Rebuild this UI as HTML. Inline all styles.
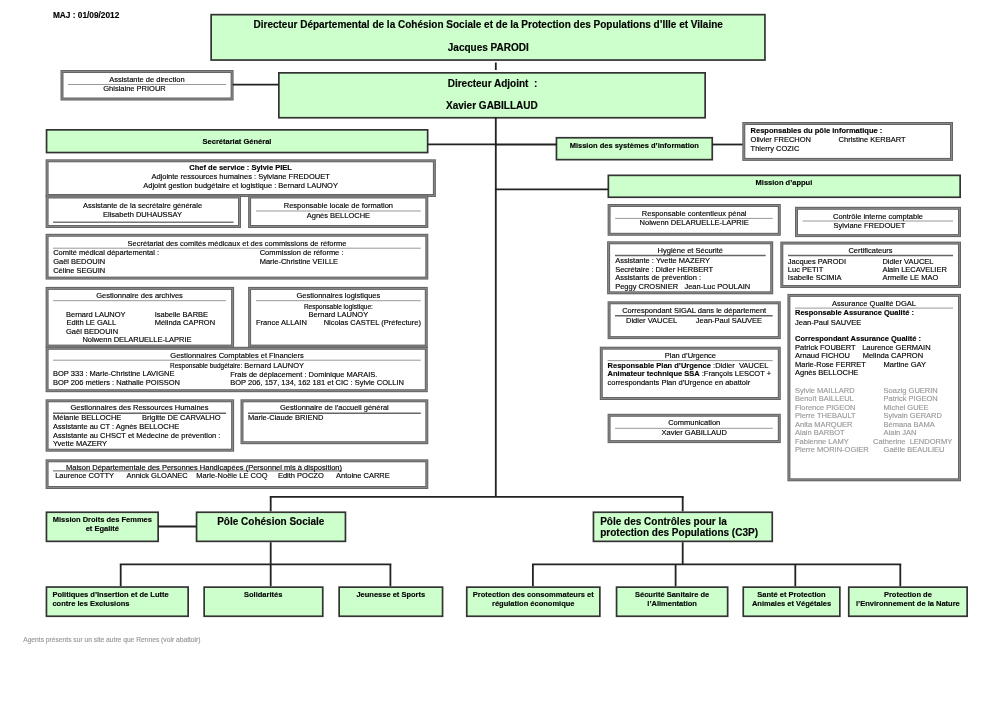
<!DOCTYPE html>
<html><head><meta charset="utf-8"><style>
html,body{margin:0;padding:0;background:#fff;width:992px;height:701px;overflow:hidden}
svg{position:absolute;left:0;top:0}
.t{position:absolute;white-space:pre;font-family:"Liberation Sans",sans-serif;-webkit-text-stroke:0.15px currentColor}
#tx{position:absolute;left:0;top:0;width:992px;height:701px;will-change:transform}
</style></head><body>
<svg width="992" height="701" viewBox="0 0 992 701">
<rect x="211.15" y="14.65" width="553.80" height="45.40" fill="#ccffcc" stroke="#333" stroke-width="1.7"/>
<line x1="495.8" y1="62.5" x2="495.8" y2="70" stroke="#222" stroke-width="1.8"/>
<rect x="278.85" y="72.85" width="426.30" height="44.90" fill="#ccffcc" stroke="#333" stroke-width="1.7"/>
<rect x="62.00" y="71.50" width="170.10" height="27.50" fill="#fff" stroke="#646464" stroke-width="3"/>
<rect x="62.00" y="71.50" width="170.10" height="27.50" fill="none" stroke="#8e8e8e" stroke-width="0.9"/>
<line x1="233.6" y1="84.6" x2="278" y2="84.6" stroke="#222" stroke-width="1.8" stroke-linecap="square"/>
<line x1="68" y1="84.5" x2="226" y2="84.5" stroke="#999" stroke-width="1" stroke-linecap="butt"/>
<line x1="495.8" y1="117.3" x2="495.8" y2="496.8" stroke="#222" stroke-width="1.8"/>
<rect x="46.55" y="129.85" width="381.10" height="22.70" fill="#ccffcc" stroke="#333" stroke-width="1.7"/>
<line x1="428.5" y1="144.3" x2="495.8" y2="144.3" stroke="#222" stroke-width="1.8" stroke-linecap="square"/>
<rect x="556.45" y="137.75" width="155.80" height="21.90" fill="#ccffcc" stroke="#333" stroke-width="1.7"/>
<line x1="495.8" y1="144.5" x2="555.6" y2="144.5" stroke="#222" stroke-width="1.8" stroke-linecap="square"/>
<line x1="713.1" y1="144.5" x2="742.9" y2="144.5" stroke="#222" stroke-width="1.8" stroke-linecap="square"/>
<rect x="743.80" y="123.50" width="207.70" height="35.90" fill="#fff" stroke="#646464" stroke-width="3"/>
<rect x="743.80" y="123.50" width="207.70" height="35.90" fill="none" stroke="#8e8e8e" stroke-width="0.9"/>
<rect x="608.35" y="175.35" width="351.80" height="21.90" fill="#ccffcc" stroke="#333" stroke-width="1.7"/>
<line x1="495.8" y1="189.4" x2="607.5" y2="189.4" stroke="#222" stroke-width="1.8" stroke-linecap="square"/>
<rect x="47.10" y="160.80" width="387.30" height="34.70" fill="#fff" stroke="#646464" stroke-width="3"/>
<rect x="47.10" y="160.80" width="387.30" height="34.70" fill="none" stroke="#8e8e8e" stroke-width="0.9"/>
<rect x="47.10" y="197.00" width="192.40" height="29.50" fill="#fff" stroke="#646464" stroke-width="3"/>
<rect x="47.10" y="197.00" width="192.40" height="29.50" fill="none" stroke="#8e8e8e" stroke-width="0.9"/>
<line x1="53" y1="222.3" x2="233.6" y2="222.3" stroke="#777" stroke-width="1.5" stroke-linecap="butt"/>
<rect x="249.60" y="197.00" width="177.20" height="29.50" fill="#fff" stroke="#646464" stroke-width="3"/>
<rect x="249.60" y="197.00" width="177.20" height="29.50" fill="none" stroke="#8e8e8e" stroke-width="0.9"/>
<line x1="256" y1="211" x2="420.8" y2="211" stroke="#999" stroke-width="1" stroke-linecap="butt"/>
<rect x="47.10" y="235.30" width="379.70" height="42.80" fill="#fff" stroke="#646464" stroke-width="3"/>
<rect x="47.10" y="235.30" width="379.70" height="42.80" fill="none" stroke="#8e8e8e" stroke-width="0.9"/>
<line x1="53" y1="248.2" x2="420.8" y2="248.2" stroke="#999" stroke-width="1" stroke-linecap="butt"/>
<rect x="47.10" y="288.40" width="185.50" height="57.70" fill="#fff" stroke="#646464" stroke-width="3"/>
<rect x="47.10" y="288.40" width="185.50" height="57.70" fill="none" stroke="#8e8e8e" stroke-width="0.9"/>
<line x1="53" y1="300.7" x2="226" y2="300.7" stroke="#999" stroke-width="1" stroke-linecap="butt"/>
<rect x="249.60" y="288.40" width="176.70" height="57.70" fill="#fff" stroke="#646464" stroke-width="3"/>
<rect x="249.60" y="288.40" width="176.70" height="57.70" fill="none" stroke="#8e8e8e" stroke-width="0.9"/>
<line x1="256" y1="300.7" x2="420.8" y2="300.7" stroke="#999" stroke-width="1" stroke-linecap="butt"/>
<rect x="47.10" y="348.30" width="379.20" height="42.40" fill="#fff" stroke="#646464" stroke-width="3"/>
<rect x="47.10" y="348.30" width="379.20" height="42.40" fill="none" stroke="#8e8e8e" stroke-width="0.9"/>
<line x1="53" y1="360.2" x2="420.8" y2="360.2" stroke="#999" stroke-width="1" stroke-linecap="butt"/>
<rect x="47.10" y="400.80" width="185.50" height="49.40" fill="#fff" stroke="#646464" stroke-width="3"/>
<rect x="47.10" y="400.80" width="185.50" height="49.40" fill="none" stroke="#8e8e8e" stroke-width="0.9"/>
<line x1="53" y1="413.2" x2="226" y2="413.2" stroke="#666" stroke-width="1.5" stroke-linecap="butt"/>
<rect x="242.00" y="400.80" width="184.80" height="41.90" fill="#fff" stroke="#646464" stroke-width="3"/>
<rect x="242.00" y="400.80" width="184.80" height="41.90" fill="none" stroke="#8e8e8e" stroke-width="0.9"/>
<line x1="248" y1="413.2" x2="420.8" y2="413.2" stroke="#666" stroke-width="1.5" stroke-linecap="butt"/>
<rect x="47.10" y="460.80" width="379.70" height="26.70" fill="#fff" stroke="#646464" stroke-width="3"/>
<rect x="47.10" y="460.80" width="379.70" height="26.70" fill="none" stroke="#8e8e8e" stroke-width="0.9"/>
<line x1="53" y1="470.9" x2="342" y2="470.9" stroke="#555" stroke-width="0.9" stroke-linecap="butt"/>
<rect x="609.10" y="205.50" width="170.20" height="28.80" fill="#fff" stroke="#646464" stroke-width="3"/>
<rect x="609.10" y="205.50" width="170.20" height="28.80" fill="none" stroke="#8e8e8e" stroke-width="0.9"/>
<line x1="615.2" y1="218.4" x2="772.7" y2="218.4" stroke="#999" stroke-width="1" stroke-linecap="butt"/>
<rect x="796.50" y="208.30" width="163.00" height="27.30" fill="#fff" stroke="#646464" stroke-width="3"/>
<rect x="796.50" y="208.30" width="163.00" height="27.30" fill="none" stroke="#8e8e8e" stroke-width="0.9"/>
<line x1="802.5" y1="221" x2="953" y2="221" stroke="#999" stroke-width="1" stroke-linecap="butt"/>
<rect x="608.60" y="242.80" width="163.10" height="50.00" fill="#fff" stroke="#646464" stroke-width="3"/>
<rect x="608.60" y="242.80" width="163.10" height="50.00" fill="none" stroke="#8e8e8e" stroke-width="0.9"/>
<line x1="615" y1="255.5" x2="765.7" y2="255.5" stroke="#666" stroke-width="1.5" stroke-linecap="butt"/>
<rect x="781.80" y="243.10" width="177.70" height="43.40" fill="#fff" stroke="#646464" stroke-width="3"/>
<rect x="781.80" y="243.10" width="177.70" height="43.40" fill="none" stroke="#8e8e8e" stroke-width="0.9"/>
<line x1="788" y1="255.5" x2="953" y2="255.5" stroke="#666" stroke-width="1.5" stroke-linecap="butt"/>
<rect x="609.10" y="302.80" width="170.20" height="34.80" fill="#fff" stroke="#646464" stroke-width="3"/>
<rect x="609.10" y="302.80" width="170.20" height="34.80" fill="none" stroke="#8e8e8e" stroke-width="0.9"/>
<line x1="615" y1="315.7" x2="772.7" y2="315.7" stroke="#666" stroke-width="1.5" stroke-linecap="butt"/>
<rect x="788.90" y="295.40" width="170.60" height="184.40" fill="#fff" stroke="#646464" stroke-width="3"/>
<rect x="788.90" y="295.40" width="170.60" height="184.40" fill="none" stroke="#8e8e8e" stroke-width="0.9"/>
<line x1="795" y1="308.1" x2="953" y2="308.1" stroke="#999" stroke-width="1" stroke-linecap="butt"/>
<rect x="601.30" y="348.20" width="178.00" height="50.30" fill="#fff" stroke="#646464" stroke-width="3"/>
<rect x="601.30" y="348.20" width="178.00" height="50.30" fill="none" stroke="#8e8e8e" stroke-width="0.9"/>
<line x1="607.6" y1="360.6" x2="772.7" y2="360.6" stroke="#999" stroke-width="1" stroke-linecap="butt"/>
<rect x="609.10" y="415.30" width="170.20" height="26.30" fill="#fff" stroke="#646464" stroke-width="3"/>
<rect x="609.10" y="415.30" width="170.20" height="26.30" fill="none" stroke="#8e8e8e" stroke-width="0.9"/>
<line x1="615" y1="428.3" x2="772.7" y2="428.3" stroke="#999" stroke-width="1" stroke-linecap="butt"/>
<line x1="270.7" y1="496.8" x2="682.7" y2="496.8" stroke="#222" stroke-width="1.8" stroke-linecap="square"/>
<line x1="270.7" y1="496.8" x2="270.7" y2="511.4" stroke="#222" stroke-width="1.8"/>
<line x1="682.7" y1="496.8" x2="682.7" y2="511.4" stroke="#222" stroke-width="1.8"/>
<rect x="46.45" y="512.25" width="111.70" height="29.10" fill="#ccffcc" stroke="#333" stroke-width="1.7"/>
<line x1="159" y1="526.5" x2="195.7" y2="526.5" stroke="#222" stroke-width="1.8" stroke-linecap="square"/>
<rect x="196.55" y="512.25" width="148.90" height="29.10" fill="#ccffcc" stroke="#333" stroke-width="1.7"/>
<rect x="593.45" y="512.25" width="178.80" height="29.10" fill="#ccffcc" stroke="#333" stroke-width="1.7"/>
<line x1="270.7" y1="542.2" x2="270.7" y2="586.3" stroke="#222" stroke-width="1.8"/>
<line x1="120.7" y1="564.3" x2="390.4" y2="564.3" stroke="#222" stroke-width="1.8" stroke-linecap="square"/>
<line x1="120.7" y1="564.3" x2="120.7" y2="586.3" stroke="#222" stroke-width="1.8"/>
<line x1="390.4" y1="564.3" x2="390.4" y2="586.3" stroke="#222" stroke-width="1.8"/>
<line x1="682.7" y1="542.2" x2="682.7" y2="564.3" stroke="#222" stroke-width="1.8"/>
<line x1="532.9" y1="564.3" x2="900.3" y2="564.3" stroke="#222" stroke-width="1.8" stroke-linecap="square"/>
<line x1="532.9" y1="564.3" x2="532.9" y2="586.3" stroke="#222" stroke-width="1.8"/>
<line x1="675.6" y1="564.3" x2="675.6" y2="586.3" stroke="#222" stroke-width="1.8"/>
<line x1="795.3" y1="564.3" x2="795.3" y2="586.3" stroke="#222" stroke-width="1.8"/>
<line x1="900.3" y1="564.3" x2="900.3" y2="586.3" stroke="#222" stroke-width="1.8"/>
<rect x="46.45" y="587.05" width="141.70" height="29.20" fill="#ccffcc" stroke="#333" stroke-width="1.7"/>
<rect x="204.15" y="587.15" width="118.60" height="29.10" fill="#ccffcc" stroke="#333" stroke-width="1.7"/>
<rect x="339.15" y="587.15" width="103.40" height="29.10" fill="#ccffcc" stroke="#333" stroke-width="1.7"/>
<rect x="466.75" y="587.15" width="133.10" height="29.10" fill="#ccffcc" stroke="#333" stroke-width="1.7"/>
<rect x="616.55" y="587.15" width="111.10" height="29.10" fill="#ccffcc" stroke="#333" stroke-width="1.7"/>
<rect x="743.25" y="587.15" width="96.60" height="29.10" fill="#ccffcc" stroke="#333" stroke-width="1.7"/>
<rect x="848.75" y="587.15" width="118.40" height="29.10" fill="#ccffcc" stroke="#333" stroke-width="1.7"/>
</svg>
<div id="tx">
<div class="t" style="left:52.90px;top:10.80px;font-size:8.3px;line-height:9.38px;font-weight:bold;color:#000;">MAJ : 01/09/2012</div>
<div class="t" style="left:188.20px;width:600px;text-align:center;top:18.90px;font-size:10px;line-height:11.30px;font-weight:bold;color:#000;">Directeur Départemental de la Cohésion Sociale et de la Protection des Populations d’Ille et Vilaine</div>
<div class="t" style="left:188.30px;width:600px;text-align:center;top:41.90px;font-size:10px;line-height:11.30px;font-weight:bold;color:#000;">Jacques PARODI</div>
<div class="t" style="left:447.70px;top:77.70px;font-size:10px;line-height:11.30px;font-weight:bold;color:#000;">Directeur Adjoint&nbsp; :</div>
<div class="t" style="left:191.90px;width:600px;text-align:center;top:99.50px;font-size:10px;line-height:11.30px;font-weight:bold;color:#000;">Xavier GABILLAUD</div>
<div class="t" style="left:-153.10px;width:600px;text-align:center;top:75.90px;font-size:7.5px;line-height:8.47px;font-weight:normal;color:#000;">Assistante de direction</div>
<div class="t" style="left:-165.50px;width:600px;text-align:center;top:85.20px;font-size:7.5px;line-height:8.47px;font-weight:normal;color:#000;">Ghislaine PRIOUR</div>
<div class="t" style="left:-63.00px;width:600px;text-align:center;top:138.00px;font-size:7.5px;line-height:8.47px;font-weight:bold;color:#000;">Secrétariat Général</div>
<div class="t" style="left:334.30px;width:600px;text-align:center;top:142.00px;font-size:7.5px;line-height:8.47px;font-weight:bold;color:#000;">Mission des systèmes d’information</div>
<div class="t" style="left:750.60px;top:127.00px;font-size:7.5px;line-height:8.47px;font-weight:bold;color:#000;">Responsables du pôle informatique :</div>
<div class="t" style="left:750.60px;top:135.80px;font-size:7.5px;line-height:8.47px;font-weight:normal;color:#000;">Olivier FRECHON</div>
<div class="t" style="left:838.60px;top:135.80px;font-size:7.5px;line-height:8.47px;font-weight:normal;color:#000;">Christine KERBART</div>
<div class="t" style="left:750.60px;top:144.50px;font-size:7.5px;line-height:8.47px;font-weight:normal;color:#000;">Thierry COZIC</div>
<div class="t" style="left:755.60px;top:179.00px;font-size:7.5px;line-height:8.47px;font-weight:bold;color:#000;">Mission d’appui</div>
<div class="t" style="left:-59.40px;width:600px;text-align:center;top:164.10px;font-size:7.5px;line-height:8.47px;font-weight:bold;color:#000;">Chef de service : Sylvie PIEL</div>
<div class="t" style="left:-59.40px;width:600px;text-align:center;top:173.30px;font-size:7.5px;line-height:8.47px;font-weight:normal;color:#000;">Adjointe ressources humaines : Sylviane FREDOUET</div>
<div class="t" style="left:-59.40px;width:600px;text-align:center;top:181.70px;font-size:7.5px;line-height:8.47px;font-weight:normal;color:#000;">Adjoint gestion budgétaire et logistique : Bernard LAUNOY</div>
<div class="t" style="left:-157.50px;width:600px;text-align:center;top:201.90px;font-size:7.5px;line-height:8.47px;font-weight:normal;color:#000;">Assistante de la secrétaire générale</div>
<div class="t" style="left:-157.50px;width:600px;text-align:center;top:210.70px;font-size:7.5px;line-height:8.47px;font-weight:normal;color:#000;">Elisabeth DUHAUSSAY</div>
<div class="t" style="left:38.40px;width:600px;text-align:center;top:201.90px;font-size:7.5px;line-height:8.47px;font-weight:normal;color:#000;">Responsable locale de formation</div>
<div class="t" style="left:38.40px;width:600px;text-align:center;top:212.00px;font-size:7.5px;line-height:8.47px;font-weight:normal;color:#000;">Agnès BELLOCHE</div>
<div class="t" style="left:-63.00px;width:600px;text-align:center;top:239.70px;font-size:7.5px;line-height:8.47px;font-weight:normal;color:#000;">Secrétariat des comités médicaux et des commissions de réforme</div>
<div class="t" style="left:53.20px;top:249.30px;font-size:7.5px;line-height:8.47px;font-weight:normal;color:#000;">Comité médical départemental :</div>
<div class="t" style="left:53.20px;top:258.10px;font-size:7.5px;line-height:8.47px;font-weight:normal;color:#000;">Gaël BEDOUIN</div>
<div class="t" style="left:53.20px;top:266.90px;font-size:7.5px;line-height:8.47px;font-weight:normal;color:#000;">Céline SEGUIN</div>
<div class="t" style="left:259.70px;top:249.30px;font-size:7.5px;line-height:8.47px;font-weight:normal;color:#000;">Commission de réforme :</div>
<div class="t" style="left:259.70px;top:258.10px;font-size:7.5px;line-height:8.47px;font-weight:normal;color:#000;">Marie-Christine VEILLE</div>
<div class="t" style="left:-160.50px;width:600px;text-align:center;top:291.70px;font-size:7.5px;line-height:8.47px;font-weight:normal;color:#000;">Gestionnaire des archives</div>
<div class="t" style="left:66.00px;top:310.60px;font-size:7.5px;line-height:8.47px;font-weight:normal;color:#000;">Bernard LAUNOY</div>
<div class="t" style="left:154.70px;top:310.60px;font-size:7.5px;line-height:8.47px;font-weight:normal;color:#000;">Isabelle BARBE</div>
<div class="t" style="left:66.50px;top:319.20px;font-size:7.5px;line-height:8.47px;font-weight:normal;color:#000;">Edith LE GALL</div>
<div class="t" style="left:154.70px;top:319.20px;font-size:7.5px;line-height:8.47px;font-weight:normal;color:#000;">Mélinda CAPRON</div>
<div class="t" style="left:66.00px;top:327.70px;font-size:7.5px;line-height:8.47px;font-weight:normal;color:#000;">Gaël BEDOUIN</div>
<div class="t" style="left:82.40px;top:336.20px;font-size:7.5px;line-height:8.47px;font-weight:normal;color:#000;">Nolwenn DELARUELLE-LAPRIE</div>
<div class="t" style="left:38.40px;width:600px;text-align:center;top:291.70px;font-size:7.5px;line-height:8.47px;font-weight:normal;color:#000;">Gestionnaires logistiques</div>
<div class="t" style="left:38.40px;width:600px;text-align:center;top:302.70px;font-size:6.5px;line-height:7.34px;font-weight:normal;color:#000;">Responsable logistique:</div>
<div class="t" style="left:38.40px;width:600px;text-align:center;top:310.60px;font-size:7.5px;line-height:8.47px;font-weight:normal;color:#000;">Bernard LAUNOY</div>
<div class="t" style="left:256.00px;top:318.90px;font-size:7.5px;line-height:8.47px;font-weight:normal;color:#000;">France ALLAIN</div>
<div class="t" style="left:323.70px;top:318.90px;font-size:7.5px;line-height:8.47px;font-weight:normal;color:#000;">Nicolas CASTEL (Préfecture)</div>
<div class="t" style="left:-63.00px;width:600px;text-align:center;top:351.70px;font-size:7.5px;line-height:8.47px;font-weight:normal;color:#000;">Gestionnaires Comptables et Financiers</div>
<div class="t" style="left:-63.00px;width:600px;text-align:center;top:362.30px;font-size:7.5px;line-height:8.47px;font-weight:normal;color:#000;"><span style="font-size:6.5px">Responsable budgétaire:</span> Bernard LAUNOY</div>
<div class="t" style="left:53.00px;top:370.30px;font-size:7.5px;line-height:8.47px;font-weight:normal;color:#000;">BOP 333 : Marie-Christine LAVIGNE</div>
<div class="t" style="left:230.20px;top:370.70px;font-size:7.5px;line-height:8.47px;font-weight:normal;color:#000;">Frais de déplacement : Dominique MARAIS.</div>
<div class="t" style="left:53.00px;top:378.80px;font-size:7.5px;line-height:8.47px;font-weight:normal;color:#000;">BOP 206 métiers : Nathalie POISSON</div>
<div class="t" style="left:230.20px;top:379.10px;font-size:7.5px;line-height:8.47px;font-weight:normal;color:#000;">BOP 206, 157, 134, 162 181 et CIC : Sylvie COLLIN</div>
<div class="t" style="left:-160.50px;width:600px;text-align:center;top:404.10px;font-size:7.5px;line-height:8.47px;font-weight:normal;color:#000;">Gestionnaires des Ressources Humaines</div>
<div class="t" style="left:53.00px;top:413.70px;font-size:7.5px;line-height:8.47px;font-weight:normal;color:#000;">Mélanie BELLOCHE</div>
<div class="t" style="left:142.10px;top:413.70px;font-size:7.5px;line-height:8.47px;font-weight:normal;color:#000;">Brigitte DE CARVALHO</div>
<div class="t" style="left:53.00px;top:422.80px;font-size:7.5px;line-height:8.47px;font-weight:normal;color:#000;">Assistante au CT : Agnès BELLOCHE</div>
<div class="t" style="left:53.00px;top:431.60px;font-size:7.5px;line-height:8.47px;font-weight:normal;color:#000;">Assistante au CHSCT et Médecine de prévention :</div>
<div class="t" style="left:53.00px;top:439.80px;font-size:7.5px;line-height:8.47px;font-weight:normal;color:#000;">Yvette MAZERY</div>
<div class="t" style="left:34.40px;width:600px;text-align:center;top:404.10px;font-size:7.5px;line-height:8.47px;font-weight:normal;color:#000;">Gestionnaire de l’accueil général</div>
<div class="t" style="left:248.00px;top:413.70px;font-size:7.5px;line-height:8.47px;font-weight:normal;color:#000;">Marie-Claude BRIEND</div>
<div class="t" style="left:66.00px;top:463.90px;font-size:7.5px;line-height:8.47px;font-weight:normal;color:#000;">Maison Départementale des Personnes Handicapées (Personnel mis à disposition)</div>
<div class="t" style="left:55.20px;top:472.20px;font-size:7.5px;line-height:8.47px;font-weight:normal;color:#000;">Laurence COTTY</div>
<div class="t" style="left:126.50px;top:472.20px;font-size:7.5px;line-height:8.47px;font-weight:normal;color:#000;">Annick GLOANEC</div>
<div class="t" style="left:196.30px;top:472.20px;font-size:7.5px;line-height:8.47px;font-weight:normal;color:#000;">Marie-Noële LE COQ</div>
<div class="t" style="left:277.90px;top:472.20px;font-size:7.5px;line-height:8.47px;font-weight:normal;color:#000;">Edith POCZO</div>
<div class="t" style="left:336.00px;top:472.20px;font-size:7.5px;line-height:8.47px;font-weight:normal;color:#000;">Antoine CARRE</div>
<div class="t" style="left:394.20px;width:600px;text-align:center;top:209.60px;font-size:7.5px;line-height:8.47px;font-weight:normal;color:#000;">Responsable contentieux pénal</div>
<div class="t" style="left:394.20px;width:600px;text-align:center;top:219.20px;font-size:7.5px;line-height:8.47px;font-weight:normal;color:#000;">Nolwenn DELARUELLE-LAPRIE</div>
<div class="t" style="left:578.00px;width:600px;text-align:center;top:212.50px;font-size:7.5px;line-height:8.47px;font-weight:normal;color:#000;">Contrôle interne comptable</div>
<div class="t" style="left:569.40px;width:600px;text-align:center;top:222.20px;font-size:7.5px;line-height:8.47px;font-weight:normal;color:#000;">Sylviane FREDOUET</div>
<div class="t" style="left:390.30px;width:600px;text-align:center;top:246.90px;font-size:7.5px;line-height:8.47px;font-weight:normal;color:#000;">Hygiène et Sécurité</div>
<div class="t" style="left:615.20px;top:256.80px;font-size:7.5px;line-height:8.47px;font-weight:normal;color:#000;">Assistante : Yvette MAZERY</div>
<div class="t" style="left:615.20px;top:265.70px;font-size:7.5px;line-height:8.47px;font-weight:normal;color:#000;">Secrétaire : Didier HERBERT</div>
<div class="t" style="left:615.20px;top:274.30px;font-size:7.5px;line-height:8.47px;font-weight:normal;color:#000;">Assistants de prévention :</div>
<div class="t" style="left:615.20px;top:282.70px;font-size:7.5px;line-height:8.47px;font-weight:normal;color:#000;">Peggy CROSNIER&nbsp;&nbsp; Jean-Luc POULAIN</div>
<div class="t" style="left:570.50px;width:600px;text-align:center;top:246.90px;font-size:7.5px;line-height:8.47px;font-weight:normal;color:#000;">Certificateurs</div>
<div class="t" style="left:787.80px;top:257.50px;font-size:7.5px;line-height:8.47px;font-weight:normal;color:#000;">Jacques PARODI</div>
<div class="t" style="left:882.40px;top:257.50px;font-size:7.5px;line-height:8.47px;font-weight:normal;color:#000;">Didier VAUCEL</div>
<div class="t" style="left:787.80px;top:265.70px;font-size:7.5px;line-height:8.47px;font-weight:normal;color:#000;">Luc PETIT</div>
<div class="t" style="left:882.40px;top:265.70px;font-size:7.5px;line-height:8.47px;font-weight:normal;color:#000;">Alain LECAVELIER</div>
<div class="t" style="left:787.80px;top:274.30px;font-size:7.5px;line-height:8.47px;font-weight:normal;color:#000;">Isabelle SCIMIA</div>
<div class="t" style="left:882.40px;top:274.30px;font-size:7.5px;line-height:8.47px;font-weight:normal;color:#000;">Armelle LE MAO</div>
<div class="t" style="left:394.20px;width:600px;text-align:center;top:307.20px;font-size:7.5px;line-height:8.47px;font-weight:normal;color:#000;">Correspondant SIGAL dans le département</div>
<div class="t" style="left:626.00px;top:316.70px;font-size:7.5px;line-height:8.47px;font-weight:normal;color:#000;">Didier VAUCEL</div>
<div class="t" style="left:695.80px;top:316.70px;font-size:7.5px;line-height:8.47px;font-weight:normal;color:#000;">Jean-Paul SAUVEE</div>
<div class="t" style="left:574.00px;width:600px;text-align:center;top:299.60px;font-size:7.5px;line-height:8.47px;font-weight:normal;color:#000;">Assurance Qualité DGAL</div>
<div class="t" style="left:795.00px;top:309.20px;font-size:7.5px;line-height:8.47px;font-weight:bold;color:#000;">Responsable Assurance Qualité :</div>
<div class="t" style="left:795.00px;top:318.80px;font-size:7.5px;line-height:8.47px;font-weight:normal;color:#000;">Jean-Paul SAUVEE</div>
<div class="t" style="left:795.00px;top:334.90px;font-size:7.5px;line-height:8.47px;font-weight:bold;color:#000;">Correspondant Assurance Qualité :</div>
<div class="t" style="left:795.00px;top:343.70px;font-size:7.5px;line-height:8.47px;font-weight:normal;color:#000;">Patrick FOUBERT</div>
<div class="t" style="left:862.20px;top:343.70px;font-size:7.5px;line-height:8.47px;font-weight:normal;color:#000;">Laurence GERMAIN</div>
<div class="t" style="left:795.00px;top:352.20px;font-size:7.5px;line-height:8.47px;font-weight:normal;color:#000;">Arnaud FICHOU</div>
<div class="t" style="left:862.70px;top:352.20px;font-size:7.5px;line-height:8.47px;font-weight:normal;color:#000;">Melinda CAPRON</div>
<div class="t" style="left:795.00px;top:360.90px;font-size:7.5px;line-height:8.47px;font-weight:normal;color:#000;">Marie-Rose FERRET</div>
<div class="t" style="left:883.60px;top:360.90px;font-size:7.5px;line-height:8.47px;font-weight:normal;color:#000;">Martine GAY</div>
<div class="t" style="left:795.00px;top:369.40px;font-size:7.5px;line-height:8.47px;font-weight:normal;color:#000;">Agnès BELLOCHE</div>
<div class="t" style="left:795.00px;top:386.50px;font-size:7.5px;line-height:8.47px;font-weight:normal;color:#999;">Sylvie MAILLARD</div>
<div class="t" style="left:883.60px;top:386.50px;font-size:7.5px;line-height:8.47px;font-weight:normal;color:#999;">Soazig GUERIN</div>
<div class="t" style="left:795.00px;top:395.01px;font-size:7.5px;line-height:8.47px;font-weight:normal;color:#999;">Benoît BAILLEUL</div>
<div class="t" style="left:883.60px;top:395.01px;font-size:7.5px;line-height:8.47px;font-weight:normal;color:#999;">Patrick PIGEON</div>
<div class="t" style="left:795.00px;top:403.52px;font-size:7.5px;line-height:8.47px;font-weight:normal;color:#999;">Florence PIGEON</div>
<div class="t" style="left:883.60px;top:403.52px;font-size:7.5px;line-height:8.47px;font-weight:normal;color:#999;">Michel GUEE</div>
<div class="t" style="left:795.00px;top:412.03px;font-size:7.5px;line-height:8.47px;font-weight:normal;color:#999;">Pierre THEBAULT</div>
<div class="t" style="left:883.60px;top:412.03px;font-size:7.5px;line-height:8.47px;font-weight:normal;color:#999;">Sylvain GERARD</div>
<div class="t" style="left:795.00px;top:420.54px;font-size:7.5px;line-height:8.47px;font-weight:normal;color:#999;">Anita MARQUER</div>
<div class="t" style="left:883.60px;top:420.54px;font-size:7.5px;line-height:8.47px;font-weight:normal;color:#999;">Bémana BAMA</div>
<div class="t" style="left:795.00px;top:429.05px;font-size:7.5px;line-height:8.47px;font-weight:normal;color:#999;">Alain BARBOT</div>
<div class="t" style="left:883.60px;top:429.05px;font-size:7.5px;line-height:8.47px;font-weight:normal;color:#999;">Alain JAN</div>
<div class="t" style="left:795.00px;top:437.56px;font-size:7.5px;line-height:8.47px;font-weight:normal;color:#999;">Fabienne LAMY</div>
<div class="t" style="left:795.00px;top:446.07px;font-size:7.5px;line-height:8.47px;font-weight:normal;color:#999;">Pierre MORIN-OGIER</div>
<div class="t" style="left:883.60px;top:446.07px;font-size:7.5px;line-height:8.47px;font-weight:normal;color:#999;">Gaëlle BEAULIEU</div>
<div class="t" style="left:873.00px;top:438.20px;font-size:7.5px;line-height:8.47px;font-weight:normal;color:#999;">Catherine&nbsp; LENDORMY</div>
<div class="t" style="left:390.40px;width:600px;text-align:center;top:352.00px;font-size:7.5px;line-height:8.47px;font-weight:normal;color:#000;">Plan d’Urgence</div>
<div class="t" style="left:607.60px;top:361.60px;font-size:7.5px;line-height:8.47px;font-weight:normal;color:#000;"><b>Responsable Plan d’Urgence</b> :Didier&nbsp; VAUCEL</div>
<div class="t" style="left:607.60px;top:370.00px;font-size:7.5px;line-height:8.47px;font-weight:normal;color:#000;"><b>Animateur technique SSA</b> :François LESCOT +</div>
<div class="t" style="left:607.60px;top:378.90px;font-size:7.5px;line-height:8.47px;font-weight:normal;color:#000;">correspondants Plan d’Urgence en abattoir</div>
<div class="t" style="left:394.20px;width:600px;text-align:center;top:419.30px;font-size:7.5px;line-height:8.47px;font-weight:normal;color:#000;">Communication</div>
<div class="t" style="left:394.20px;width:600px;text-align:center;top:428.90px;font-size:7.5px;line-height:8.47px;font-weight:normal;color:#000;">Xavier GABILLAUD</div>
<div class="t" style="left:-197.70px;width:600px;text-align:center;top:516.00px;font-size:7.5px;line-height:8.47px;font-weight:bold;color:#000;">Mission Droits des Femmes</div>
<div class="t" style="left:-197.70px;width:600px;text-align:center;top:525.00px;font-size:7.5px;line-height:8.47px;font-weight:bold;color:#000;">et Egalité</div>
<div class="t" style="left:-29.20px;width:600px;text-align:center;top:516.10px;font-size:10px;line-height:11.30px;font-weight:bold;color:#000;">Pôle Cohésion Sociale</div>
<div class="t" style="left:600.20px;top:515.80px;font-size:10px;line-height:11.30px;font-weight:bold;color:#000;">Pôle des Contrôles pour la</div>
<div class="t" style="left:600.20px;top:527.40px;font-size:10px;line-height:11.30px;font-weight:bold;color:#000;">protection des Populations (C3P)</div>
<div class="t" style="left:52.40px;top:590.50px;font-size:7.5px;line-height:8.47px;font-weight:bold;color:#000;">Politiques d’Insertion et de Lutte</div>
<div class="t" style="left:52.40px;top:599.80px;font-size:7.5px;line-height:8.47px;font-weight:bold;color:#000;">contre les Exclusions</div>
<div class="t" style="left:-36.80px;width:600px;text-align:center;top:590.50px;font-size:7.5px;line-height:8.47px;font-weight:bold;color:#000;">Solidarités</div>
<div class="t" style="left:90.80px;width:600px;text-align:center;top:590.50px;font-size:7.5px;line-height:8.47px;font-weight:bold;color:#000;">Jeunesse et Sports</div>
<div class="t" style="left:233.30px;width:600px;text-align:center;top:590.50px;font-size:7.5px;line-height:8.47px;font-weight:bold;color:#000;">Protection des consommateurs et</div>
<div class="t" style="left:233.30px;width:600px;text-align:center;top:599.80px;font-size:7.5px;line-height:8.47px;font-weight:bold;color:#000;">régulation économique</div>
<div class="t" style="left:372.10px;width:600px;text-align:center;top:590.50px;font-size:7.5px;line-height:8.47px;font-weight:bold;color:#000;">Sécurité Sanitaire de</div>
<div class="t" style="left:372.10px;width:600px;text-align:center;top:599.80px;font-size:7.5px;line-height:8.47px;font-weight:bold;color:#000;">l’Alimentation</div>
<div class="t" style="left:491.50px;width:600px;text-align:center;top:590.50px;font-size:7.5px;line-height:8.47px;font-weight:bold;color:#000;">Santé et Protection</div>
<div class="t" style="left:491.50px;width:600px;text-align:center;top:599.80px;font-size:7.5px;line-height:8.47px;font-weight:bold;color:#000;">Animales et Végétales</div>
<div class="t" style="left:607.90px;width:600px;text-align:center;top:590.50px;font-size:7.5px;line-height:8.47px;font-weight:bold;color:#000;">Protection de</div>
<div class="t" style="left:607.90px;width:600px;text-align:center;top:599.80px;font-size:7.5px;line-height:8.47px;font-weight:bold;color:#000;">l’Environnement de la Nature</div>
<div class="t" style="left:23.20px;top:635.90px;font-size:6.7px;line-height:7.57px;font-weight:normal;color:#999;">Agents présents sur un site autre que Rennes (voir abattoir)</div>
</div>
</body></html>
